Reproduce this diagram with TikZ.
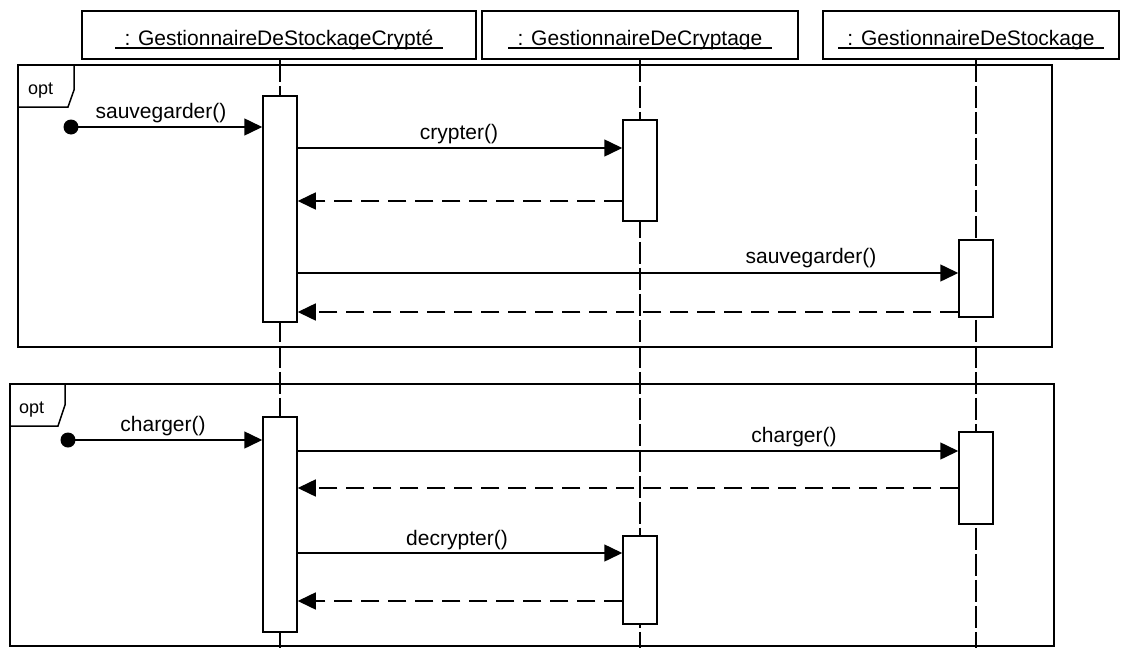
\documentclass[tikz,border=0pt]{standalone}
\usepackage{fontspec}
\setmainfont{Liberation Sans}
\usetikzlibrary{arrows.meta}
\begin{document}
\begin{tikzpicture}[x=1pt,y=-1pt,
  header/.style={draw, line width=1.5pt, minimum height=48pt, inner sep=0pt},
  htext/.style={font=\fontsize{21}{24}\selectfont, inner sep=0pt, anchor=base},
  uline/.style={line width=1.2pt},
  lifeline/.style={line width=1.5pt, dash pattern=on 22pt off 4pt},
  act/.style={draw, fill=white, line width=1.5pt, minimum width=34pt, inner sep=0pt},
  frame/.style={draw, line width=1.5pt},
  msg/.style={line width=1.5pt, -{Triangle[length=18pt,width=17pt]}},
  ret/.style={msg, dash pattern=on 18pt off 9pt},
  lbl/.style={font=\fontsize{21}{24}\selectfont, inner sep=0pt, anchor=base},
  opttext/.style={font=\fontsize{18}{20}\selectfont, inner sep=0pt, anchor=base west},
  start/.style={circle, fill=black, minimum size=15pt, inner sep=0pt}
]
\useasboundingbox (0,0) rectangle (1125,648);
\fill[white] (0,0) rectangle (1125,648);

% headers
\node[header, minimum width=394pt] (h1) at (279,35) {};
\node[header, minimum width=316pt] (h2) at (640,35) {};
\node[header, minimum width=296pt] (h3) at (971,35) {};
\node[htext] (t1) at (279,45) {: GestionnaireDeStockageCrypté};
\node[htext] (t2) at (640,45) {: GestionnaireDeCryptage};
\node[htext] (t3) at (971,45) {: GestionnaireDeStockage};
\draw[uline] ([xshift=-9pt,yshift=-3pt]t1.base west) -- ([xshift=9pt,yshift=-3pt]t1.base east);
\draw[uline] ([xshift=-9pt,yshift=-3pt]t2.base west) -- ([xshift=9pt,yshift=-3pt]t2.base east);
\draw[uline] ([xshift=-9pt,yshift=-3pt]t3.base west) -- ([xshift=9pt,yshift=-3pt]t3.base east);

% lifelines
\coordinate (e1) at (280,648);
\coordinate (e2) at (640,648);
\coordinate (e3) at (976,648);
\draw[lifeline] (h1.south -| e1) -- (e1);
\draw[lifeline] (h2.south -| e2) -- (e2);
\draw[lifeline] (h3.south -| e3) -- (e3);

% frames
\draw[frame] (18,65) rectangle (1052,347);
\draw[frame] (18,107) -- (68,107) -- (74,90) -- (74,65);
\node[opttext] (o1) at (28,94) {opt};
\draw[frame] (10,384) rectangle (1054,646);
\draw[frame] (10,426) -- (58,426) -- (65,405) -- (65,384);
\node[opttext] (o2) at (19,413) {opt};

% activations
\node[act, minimum height=226pt] (a1) at (280,209) {};
\node[act, minimum height=101pt] (a2) at (640,170.5) {};
\node[act, minimum height=77pt] (a3) at (976,278.5) {};
\node[act, minimum height=215pt] (a4) at (280,524.5) {};
\node[act, minimum height=92pt] (a5) at (976,478) {};
\node[act, minimum height=88pt] (a6) at (640,580) {};

% start points
\node[start] (s1) at (71,127) {};
\node[start] (s2) at (68,440) {};

% frame 1 messages
\draw[msg] (s1.center) -- (a1.west |- s1.center);
\node[lbl] (l1) at (161,118) {sauvegarder()};
\draw[msg] (a1.east |- 0,148) -- (a2.west |- 0,148);
\node[lbl] (l2) at (459,139) {crypter()};
\draw[ret] (a2.west |- 0,201) -- (a1.east |- 0,201);
\draw[msg] (a1.east |- 0,273) -- (a3.west |- 0,273);
\node[lbl] (l3) at (811,263) {sauvegarder()};
\draw[ret] (a3.west |- 0,312) -- (a1.east |- 0,312);

% frame 2 messages
\draw[msg] (s2.center) -- (a4.west |- s2.center);
\node[lbl] (l4) at (163,431) {charger()};
\draw[msg] (a4.east |- 0,451) -- (a5.west |- 0,451);
\node[lbl] (l5) at (794,442) {charger()};
\draw[ret] (a5.west |- 0,488) -- (a4.east |- 0,488);
\draw[msg] (a4.east |- 0,553) -- (a6.west |- 0,553);
\node[lbl] (l6) at (457,545) {decrypter()};
\draw[ret] (a6.west |- 0,601) -- (a4.east |- 0,601);
\end{tikzpicture}
\end{document}
